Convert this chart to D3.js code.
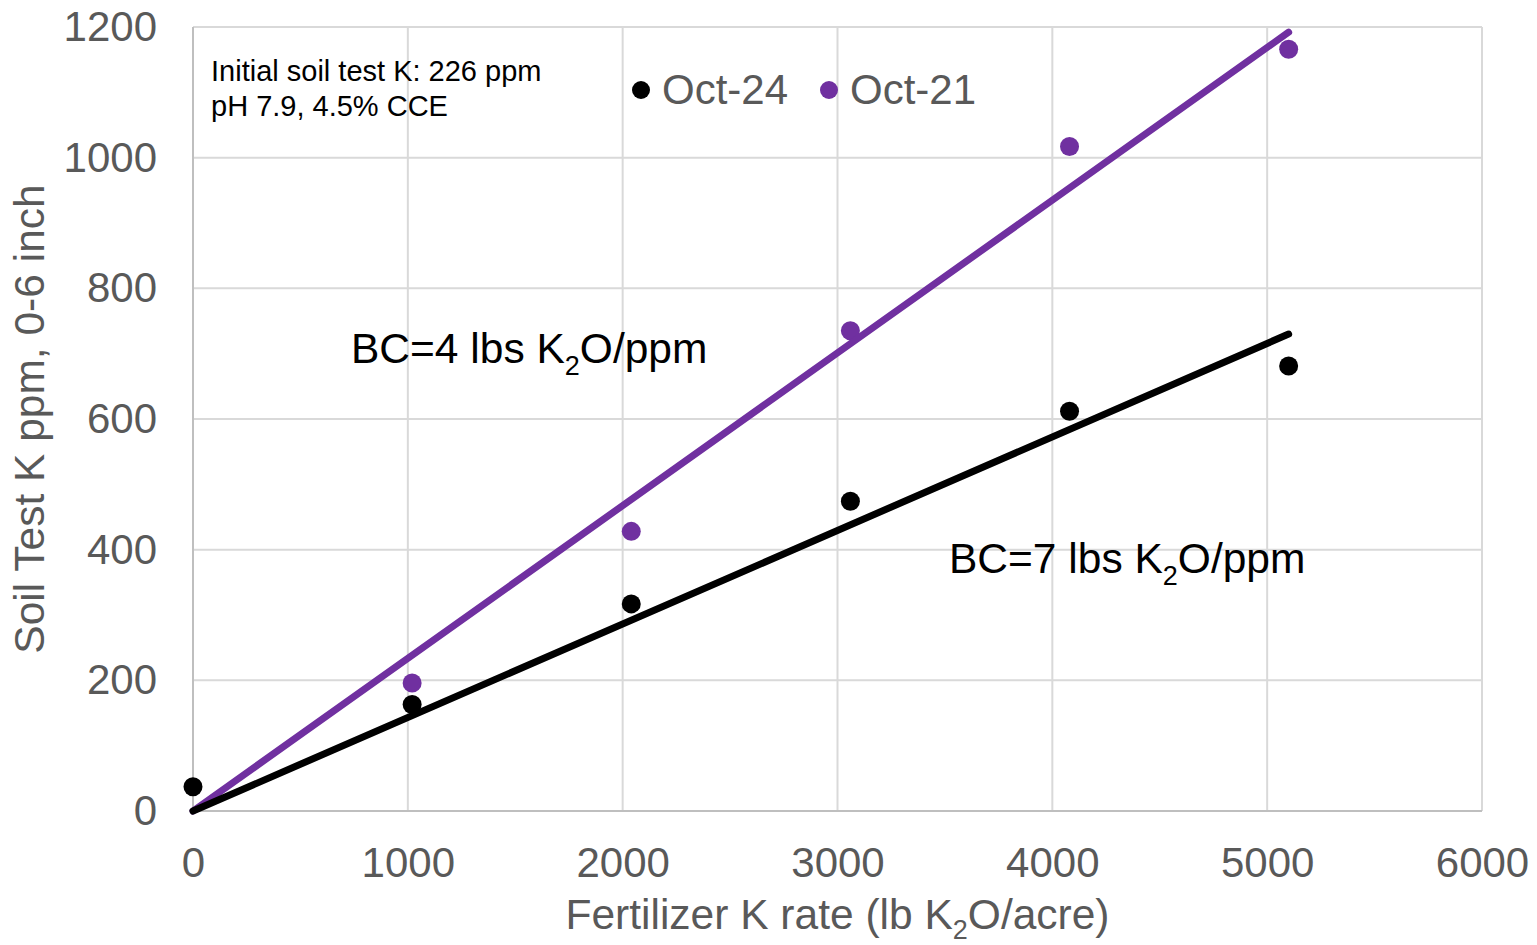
<!DOCTYPE html>
<html lang="en">
<head>
<meta charset="utf-8">
<title>Soil Test K vs Fertilizer K rate</title>
<script src="https://cdn.jsdelivr.net/npm/d3@7"></script>
<style>
    body {
        margin: 0;
        background: #fff;
    }
    svg text {
        font-family: "Liberation Sans", Arial, sans-serif;
    }
    .grid line {
        stroke: #d9d9d9;
        stroke-width: 2;
    }
    .axis path,
    .axis line {
        stroke: #bfbfbf;
        stroke-width: 2;
    }
    .axis text {
        fill: #595959;
        font-size: 42px;
    }
    .trend {
        fill: none;
        stroke-width: 7;
        stroke-linecap: round;
    }
</style>
</head>
<body>
<div id="chart"></div>

<script>
// tick values
const xTicks = [0, 1000, 2000, 3000, 4000, 5000, 6000];
const yTicks = [0, 200, 400, 600, 800, 1000, 1200];

// Oct-24 sampling (black)
const rateOct24 = [0, 1020, 2040, 3060, 4080, 5100];
const stkOct24  = [37, 163, 317, 474, 612, 681];

// Oct-21 sampling (purple)
const rateOct21 = [1020, 2040, 3060, 4080, 5100];
const stkOct21  = [196, 428, 735, 1017, 1166];

// linear trendlines through the origin
const trendRate  = [0, 5100];
const trendOct24 = [0, 730];
const trendOct21 = [0, 1192];

const seriesNames  = ["Oct-24", "Oct-21"];
const seriesColors = ["#000000", "#7030a0"];

const WIDTH = 1537,
      HEIGHT = 945,
      MARGIN = {top: 27, right: 55, bottom: 134, left: 193};

let svg = d3.select("#chart")
    .append("svg")
    .attr("width", WIDTH)
    .attr("height", HEIGHT);

let xScale = d3.scaleLinear()
    .domain([0, 6000])
    .range([MARGIN.left, WIDTH - MARGIN.right]);

let yScale = d3.scaleLinear()
    .domain([0, 1200])
    .range([HEIGHT - MARGIN.bottom, MARGIN.top]);

// gridlines
let grid = svg.append("g").attr("class", "grid");
grid.selectAll(".vgrid")
    .data(xTicks.slice(1))
    .enter()
    .append("line")
    .attr("x1", d => xScale(d))
    .attr("x2", d => xScale(d))
    .attr("y1", yScale(0))
    .attr("y2", yScale(1200));
grid.selectAll(".hgrid")
    .data(yTicks.slice(1))
    .enter()
    .append("line")
    .attr("x1", xScale(0))
    .attr("x2", xScale(6000))
    .attr("y1", d => yScale(d))
    .attr("y2", d => yScale(d));

// axes
let xAxis = d3.axisBottom(xScale)
    .tickValues(xTicks)
    .tickSize(0)
    .tickPadding(36)
    .tickFormat(d3.format("d"));
let yAxis = d3.axisLeft(yScale)
    .tickValues(yTicks)
    .tickSize(0)
    .tickPadding(36)
    .tickFormat(d3.format("d"));

svg.append("g")
    .attr("class", "axis")
    .attr("transform", "translate(0," + yScale(0) + ")")
    .call(xAxis)
    .call(g => g.select(".domain").attr("d", "M" + xScale(0) + ",0H" + xScale(6000)));

svg.append("g")
    .attr("class", "axis")
    .attr("transform", "translate(" + xScale(0) + ",0)")
    .call(yAxis)
    .call(g => g.select(".domain").attr("d", "M0," + yScale(0) + "V" + yScale(1200)));

svg.selectAll(".axis text").attr("font-family", null);

// axis titles
let xTitle = svg.append("text")
    .attr("x", (xScale(0) + xScale(6000)) / 2)
    .attr("y", 929)
    .attr("text-anchor", "middle")
    .style("font-size", "42.5px")
    .style("fill", "#595959");
xTitle.append("tspan").text("Fertilizer K rate (lb K");
xTitle.append("tspan").attr("dy", 10).style("font-size", "27px").text("2");
xTitle.append("tspan").attr("dy", -10).text("O/acre)");

svg.append("text")
    .attr("transform", "translate(44," + (yScale(0) + yScale(1200)) / 2 + ") rotate(-90)")
    .attr("text-anchor", "middle")
    .style("font-size", "42.5px")
    .style("fill", "#595959")
    .text("Soil Test K ppm, 0-6 inch");

// data points
svg.selectAll(".dot24")
    .data(rateOct24)
    .enter()
    .append("circle")
    .attr("cx", d => xScale(d))
    .attr("cy", (d, i) => yScale(stkOct24[i]))
    .attr("r", 9.5)
    .style("fill", seriesColors[0]);

svg.selectAll(".dot21")
    .data(rateOct21)
    .enter()
    .append("circle")
    .attr("cx", d => xScale(d))
    .attr("cy", (d, i) => yScale(stkOct21[i]))
    .attr("r", 9.5)
    .style("fill", seriesColors[1]);

// trendlines
let lineGen = d3.line()
    .x(d => xScale(d[0]))
    .y(d => yScale(d[1]));

svg.append("path")
    .datum(trendRate.map((d, i) => [d, trendOct21[i]]))
    .attr("class", "trend")
    .attr("d", lineGen)
    .attr("stroke", seriesColors[1]);

svg.append("path")
    .datum(trendRate.map((d, i) => [d, trendOct24[i]]))
    .attr("class", "trend")
    .attr("d", lineGen)
    .attr("stroke", seriesColors[0]);

// legend
let legendX = [641, 829];
let legend = svg.selectAll(".legend")
    .data(seriesNames)
    .enter()
    .append("g")
    .attr("class", "legend")
    .attr("transform", (d, i) => "translate(" + legendX[i] + ",90)");
legend.append("circle")
    .attr("r", 9)
    .style("fill", (d, i) => seriesColors[i]);
legend.append("text")
    .attr("x", 21)
    .attr("y", 14)
    .style("font-size", "42px")
    .style("fill", "#595959")
    .text(d => d);

// notes
let note = svg.append("text")
    .attr("x", 211)
    .attr("y", 81)
    .style("font-size", "29px")
    .style("fill", "#000");
note.append("tspan").text("Initial soil test K: 226 ppm");
note.append("tspan").attr("x", 211).attr("dy", 35).text("pH 7.9, 4.5% CCE");

function bcLabel(x, y, bc) {
    let t = svg.append("text")
        .attr("x", x)
        .attr("y", y)
        .style("font-size", "42.5px")
        .style("fill", "#000");
    t.append("tspan").text("BC=" + bc + " lbs K");
    t.append("tspan").attr("dy", 12).style("font-size", "27px").text("2");
    t.append("tspan").attr("dy", -12).text("O/ppm");
}
bcLabel(351, 363, 4);
bcLabel(949, 573, 7);
</script>
</body>
</html>
